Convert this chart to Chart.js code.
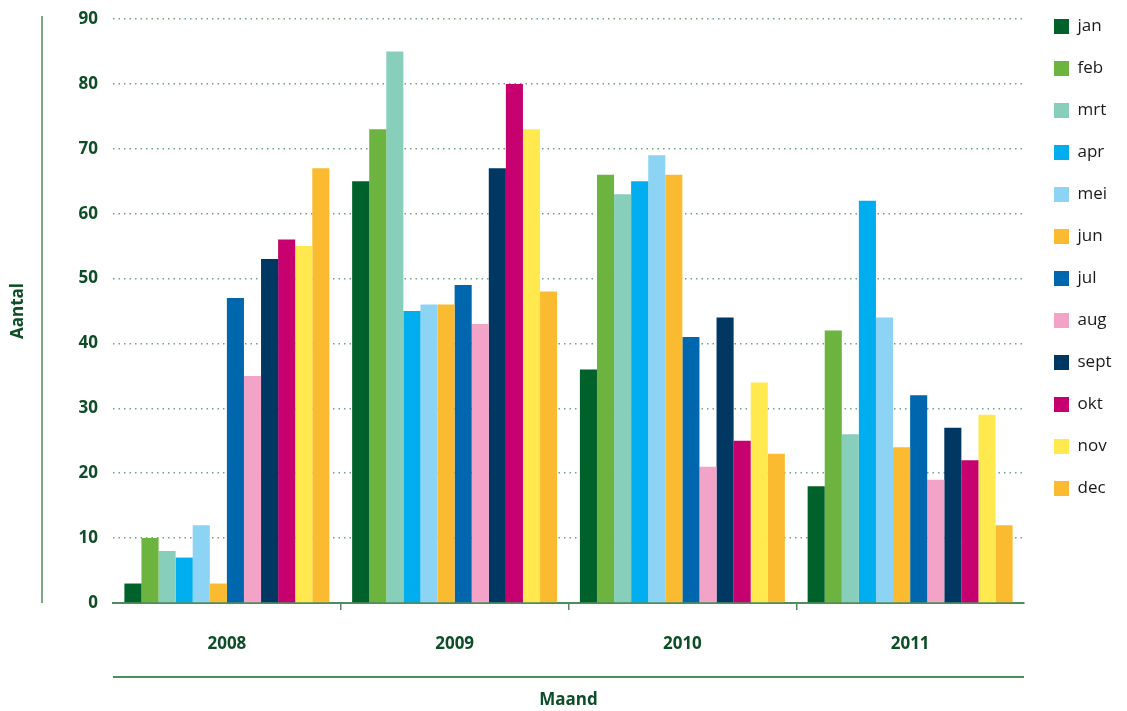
<!DOCTYPE html>
<html>
<head>
<meta charset="utf-8">
<script src="https://cdn.jsdelivr.net/npm/chart.js@4"></script>
<style>
  body { margin: 0; background: #fff; }
  #chart { display: block; }
</style>
</head>
<body>
<canvas id="chart" width="1127" height="711" style="width:1127px;height:711px"></canvas>
<script>
const years = ["2008", "2009", "2010", "2011"];
const months = ["jan", "feb", "mrt", "apr", "mei", "jun", "jul", "aug", "sept", "okt", "nov", "dec"];
const monthColors = ["#00622a", "#6db33f", "#87cfbb", "#00aeef", "#8dd3f4", "#fbbb30",
                     "#0066ad", "#f4a3c8", "#003763", "#c6006f", "#ffe94f", "#fbbb30"];

// one row per month, one value per year
const jan  = [3, 65, 36, 18];
const feb  = [10, 73, 66, 42];
const mrt  = [8, 85, 63, 26];
const apr  = [7, 45, 65, 62];
const mei  = [12, 46, 69, 44];
const jun  = [3, 46, 66, 24];
const jul  = [47, 49, 41, 32];
const aug  = [35, 43, 21, 19];
const sept = [53, 67, 44, 27];
const okt  = [56, 80, 25, 22];
const nov  = [55, 73, 34, 29];
const dec  = [67, 48, 23, 12];
const monthValues = [jan, feb, mrt, apr, mei, jun, jul, aug, sept, okt, nov, dec];

const yTicks = [0, 10, 20, 30, 40, 50, 60, 70, 80, 90];

const darkGreen = "#0d4d27";
const lineGreen = "#4f8d5e";
const fontFamily = "'Open Sans', 'Noto Sans', sans-serif";

const datasets = months.map((m, i) => ({
    label: m,
    data: monthValues[i],
    backgroundColor: monthColors[i],
    borderWidth: 0,
    categoryPercentage: 0.9,
    barPercentage: 1.0
}));

// extra frame lines: left vertical rule and rule above "Maand"
const frameLines = {
    id: "frameLines",
    beforeInit(chart) {
        const fit = chart.legend.fit;
        chart.legend.fit = function () {
            fit.call(this);
            this.width = 103;
        };
    },
    afterLayout(chart) {
        chart.legend.left = 1029;
        chart.legend.top = -7;
    },
    afterDraw(chart) {
        const c = chart.ctx;
        const area = chart.chartArea;
        c.save();
        c.strokeStyle = lineGreen;
        c.lineWidth = 1.5;
        c.beginPath();
        c.moveTo(42, 16);
        c.lineTo(42, area.bottom);
        c.stroke();
        c.lineWidth = 2;
        c.beginPath();
        c.moveTo(area.left, 677);
        c.lineTo(area.right, 677);
        c.stroke();
        c.restore();
    }
};

const ctx = document.getElementById("chart").getContext("2d");
new Chart(ctx, {
    type: "bar",
    data: { labels: years, datasets: datasets },
    options: {
        responsive: false,
        animation: false,
        layout: { padding: { top: 19, left: 0, right: 0, bottom: 0 } },
        plugins: {
            legend: {
                position: "right",
                align: "start",
                labels: {
                    boxWidth: 15,
                    boxHeight: 15,
                    padding: 25,
                    color: "#1a1a1a",
                    font: { family: fontFamily, size: 17 }
                }
            },
            tooltip: { enabled: false }
        },
        scales: {
            x: {
                offset: true,
                afterFit(scale) { scale.height = 108; },
                grid: {
                    offset: true,
                    drawOnChartArea: false,
                    tickLength: 7,
                    lineWidth: 1.5,
                    color: (c) => (c.type !== "tick" || c.index === 0) ? "rgba(0,0,0,0)" : lineGreen
                },
                border: { display: true, color: lineGreen, width: 2 },
                ticks: {
                    padding: 24,
                    color: darkGreen,
                    font: { family: fontFamily, size: 17, weight: "bold" }
                },
                title: {
                    display: true,
                    text: "Maand",
                    color: darkGreen,
                    padding: { top: 0, bottom: 1 },
                    font: { family: fontFamily, size: 17, weight: "bold" }
                }
            },
            y: {
                min: 0,
                max: 90,
                afterFit(scale) {
                    scale.width = 113;
                    scale.paddingTop = 0;
                    scale.paddingBottom = 0;
                },
                afterBuildTicks(scale) { scale.ticks = yTicks.map(v => ({ value: v })); },
                grid: {
                    drawTicks: false,
                    color: "#6fa67e",
                    lineWidth: 1.5
                },
                border: { display: false, dash: [1.5, 4] },
                ticks: {
                    padding: 15,
                    color: darkGreen,
                    font: { family: fontFamily, size: 17, weight: "bold" }
                },
                title: {
                    display: true,
                    text: "Aantal",
                    color: darkGreen,
                    padding: { top: 8, bottom: 0 },
                    font: { family: fontFamily, size: 17, weight: "bold" }
                }
            }
        }
    },
    plugins: [frameLines]
});
</script>
</body>
</html>
